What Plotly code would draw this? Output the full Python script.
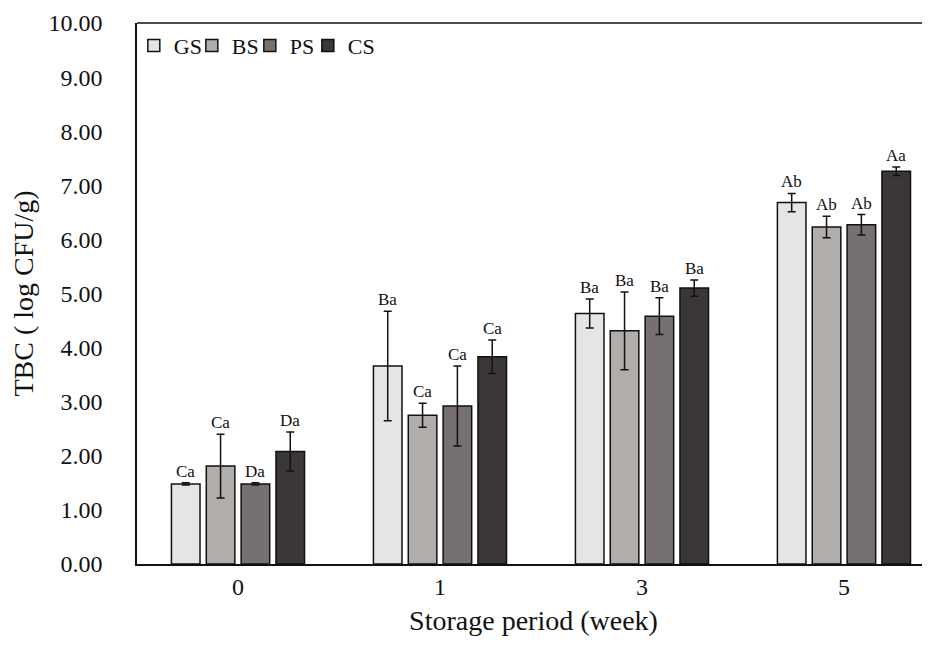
import plotly.graph_objects as go

categories = ["0", "1", "3", "5"]
series_names = ["GS", "BS", "PS", "CS"]
colors = ["#e6e5e6", "#b0adab", "#767070", "#3b3737"]

gs_vals = [1.48, 3.66, 4.63, 6.68]
bs_vals = [1.81, 2.75, 4.31, 6.23]
ps_vals = [1.48, 2.92, 4.58, 6.27]
cs_vals = [2.08, 3.83, 5.10, 7.26]

gs_err = [0.02, 1.01, 0.27, 0.17]
bs_err = [0.59, 0.22, 0.72, 0.20]
ps_err = [0.02, 0.74, 0.34, 0.19]
cs_err = [0.36, 0.31, 0.15, 0.08]

gs_lbl = ["Ca", "Ba", "Ba", "Ab"]
bs_lbl = ["Ca", "Ca", "Ba", "Ab"]
ps_lbl = ["Da", "Ca", "Ba", "Ab"]
cs_lbl = ["Da", "Ca", "Ba", "Aa"]

values = [gs_vals, bs_vals, ps_vals, cs_vals]
errors = [gs_err, bs_err, ps_err, cs_err]
labels = [gs_lbl, bs_lbl, ps_lbl, cs_lbl]

FONT = "Liberation Serif, Times New Roman, serif"
bargap = 0.31

fig = go.Figure()
for name, col, v, e in zip(series_names, colors, values, errors):
    fig.add_trace(go.Bar(
        name=name, x=categories, y=v,
        marker=dict(color=col, line=dict(color="#111111", width=1.5)),
        error_y=dict(type="data", array=e, color="#111111", thickness=1.5, width=4),
    ))
# invisible spacer entry so the last legend label is not clipped
fig.add_trace(go.Scatter(x=[None], y=[None], mode="markers", name=" ",
                         marker=dict(color="rgba(0,0,0,0)", size=1,
                                     line=dict(width=0, color="rgba(0,0,0,0)")),
                         hoverinfo="skip"))

n = len(series_names)
slot = (1 - bargap) / n
annotations = []
for si, (v, e, lb) in enumerate(zip(values, errors, labels)):
    for ci in range(len(categories)):
        xpos = ci + (si - (n - 1) / 2) * slot
        annotations.append(dict(
            x=xpos, y=v[ci] + e[ci], xref="x", yref="y", text=lb[ci],
            showarrow=False, yanchor="bottom", yshift=0,
            font=dict(family=FONT, size=17, color="#111111"),
        ))

fig.update_layout(
    width=922, height=639,
    margin=dict(l=129, r=0, t=15, b=83, autoexpand=False),
    paper_bgcolor="white", plot_bgcolor="white",
    barmode="group", bargap=bargap, bargroupgap=0.18,
    font=dict(family=FONT, size=24, color="#111111"),
    annotations=annotations,
    legend=dict(
        orientation="h", x=-0.004, y=0.997, xanchor="left", yanchor="top",
        font=dict(family=FONT, size=22, color="#111111"),
        itemwidth=30, entrywidth=13, tracegroupgap=0,
        bgcolor="rgba(0,0,0,0)",
    ),
    xaxis=dict(
        type="category", range=[-0.5, 3.426], automargin=False,
        showline=True, linecolor="#111111", linewidth=1.5, mirror=False,
        ticks="", showgrid=False,
        tickfont=dict(family=FONT, size=24),
        title=dict(text="Storage period (week)", font=dict(family=FONT, size=28), standoff=12),
    ),
    yaxis=dict(
        range=[0, 10], dtick=1, tickformat=".2f", automargin=False,
        showline=True, linecolor="#111111", linewidth=1.5,
        ticks="", showgrid=False, zeroline=False,
        ticklabelstandoff=28,
        tickfont=dict(family=FONT, size=24),
        title=dict(text="TBC ( log CFU/g)", font=dict(family=FONT, size=28), standoff=10),
    ),
)
# top border line
fig.add_shape(type="line", xref="paper", yref="paper", x0=0, x1=1, y0=1, y1=1,
              line=dict(color="#111111", width=1.5))

fig.write_html("out.html")
